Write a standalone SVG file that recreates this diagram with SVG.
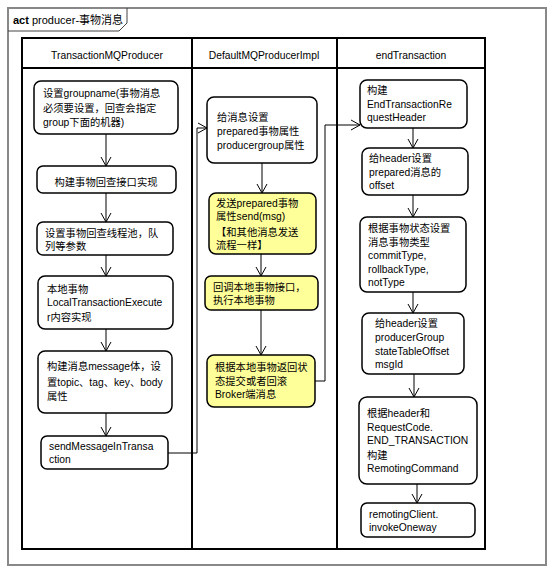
<svg xmlns="http://www.w3.org/2000/svg" width="554" height="574" viewBox="0 0 554 574">
<style>
text{font-family:"Liberation Sans","Noto Sans CJK SC",sans-serif;font-size:10.3px;fill:#000}
.hdr{text-anchor:middle}
.n{fill:#fff;stroke:#000;stroke-width:1.5}
.y{fill:#ffff99;stroke:#000;stroke-width:1.5}
.lane{fill:none;stroke:#000;stroke-width:2}
.c{fill:none;stroke:#000;stroke-width:1;marker-end:url(#ah)}
</style>
<defs>
<marker id="ah" markerUnits="userSpaceOnUse" markerWidth="14" markerHeight="14" refX="10" refY="6" orient="auto">
<path d="M1,1 L10,6 L1,11" fill="none" stroke="#000" stroke-width="1"/>
</marker>
</defs>
<rect x="0" y="0" width="554" height="574" fill="#fff"/>
<g id="frame">
<rect x="8" y="8" width="538" height="557" fill="none" stroke="#888" stroke-width="2"/>
<path d="M8,31 L119,31 L127,23 L127,8" fill="none" stroke="#444" stroke-width="1"/>
<text x="13" y="24" style="font-size:11px"><tspan font-weight="bold">act</tspan> producer-事物消息</text>
</g>
<g id="lanes">
<rect class="lane" x="22" y="38" width="463" height="511"/>
<line class="lane" x1="22" y1="68" x2="485" y2="68"/>
<line class="lane" x1="192" y1="38" x2="192" y2="549"/>
<line class="lane" x1="337" y1="38" x2="337" y2="549"/>
<text class="hdr" x="107" y="59">TransactionMQProducer</text>
<text class="hdr" x="264" y="59">DefaultMQProducerImpl</text>
<text class="hdr" x="411" y="59">endTransaction</text>
</g>
<g id="connectors">
<line class="c" x1="106" y1="134" x2="106" y2="166"/>
<line class="c" x1="106" y1="193" x2="106" y2="222"/>
<line class="c" x1="106" y1="255" x2="106" y2="276"/>
<line class="c" x1="106" y1="329" x2="106" y2="351"/>
<line class="c" x1="106" y1="413" x2="106" y2="436"/>
<polyline class="c" points="168,453 197,453 197,128 207,128"/>
<line class="c" x1="262" y1="163" x2="262" y2="193"/>
<line class="c" x1="261" y1="254" x2="261" y2="276"/>
<line class="c" x1="261" y1="310" x2="261" y2="355"/>
<polyline class="c" points="315,381 325,381 325,125 360,125"/>
<line class="c" x1="413" y1="128" x2="413" y2="148"/>
<line class="c" x1="413" y1="195" x2="413" y2="217"/>
<line class="c" x1="413" y1="292" x2="413" y2="313"/>
<line class="c" x1="414" y1="374" x2="414" y2="397"/>
<line class="c" x1="417" y1="484" x2="417" y2="503"/>
</g>
<g id="n1"><rect class="n" x="34" y="81" width="144" height="53" rx="7"/>
<text x="43" y="97">设置groupname(事物消息</text><text x="43" y="112">必须要设置，回查会指定</text><text x="43" y="126">group下面的机器)</text></g>
<g id="n2"><rect class="n" x="37" y="166" width="139" height="27" rx="6"/>
<text x="106" y="186" text-anchor="middle">构建事物回查接口实现</text></g>
<g id="n3"><rect class="n" x="37" y="222" width="136" height="33" rx="6"/>
<text x="45" y="237">设置事物回查线程池，队</text><text x="45" y="250">列等参数</text></g>
<g id="n4"><rect class="n" x="38" y="276" width="135" height="53" rx="7"/>
<text x="47" y="293">本地事物</text><text x="47" y="306">LocalTransactionExecute</text><text x="47" y="321">r内容实现</text></g>
<g id="n5"><rect class="n" x="38" y="351" width="134" height="62" rx="7"/>
<text x="47" y="370">构建消息message体，设</text><text x="47" y="386">置topic、tag、key、body</text><text x="47" y="400">属性</text></g>
<g id="n6"><rect class="n" x="41" y="436" width="127" height="33" rx="6"/>
<text x="49" y="450">sendMessageInTransa</text><text x="49" y="463">ction</text></g>
<g id="n7"><rect class="n" x="207" y="97" width="110" height="66" rx="7"/>
<text x="217" y="121">给消息设置</text><text x="217" y="135">prepared事物属性</text><text x="217" y="149">producergroup属性</text></g>
<g id="n8"><rect class="y" x="209" y="193" width="107" height="61" rx="7"/>
<text x="216" y="207">发送prepared事物</text><text x="216" y="220">属性send(msg)</text><text x="216" y="236">【和其他消息发送</text><text x="216" y="249">流程一样】</text></g>
<g id="n9"><rect class="y" x="205" y="276" width="113" height="34" rx="6"/>
<text x="213" y="291">回调本地事物接口，</text><text x="213" y="304">执行本地事物</text></g>
<g id="n10"><rect class="y" x="207" y="355" width="108" height="52" rx="7"/>
<text x="215" y="371">根据本地事物返回状</text><text x="215" y="385">态提交或者回滚</text><text x="215" y="398">Broker端消息</text></g>
<g id="n11"><rect class="n" x="360" y="80" width="107" height="48" rx="7"/>
<text x="367" y="94">构建</text><text x="367" y="108">EndTransactionRe</text><text x="367" y="121">questHeader</text></g>
<g id="n12"><rect class="n" x="362" y="148" width="106" height="47" rx="7"/>
<text x="369" y="162">给header设置</text><text x="369" y="176">prepared消息的</text><text x="369" y="189">offset</text></g>
<g id="n13"><rect class="n" x="360" y="217" width="106" height="75" rx="7"/>
<text x="368" y="232">根据事物状态设置</text><text x="368" y="246">消息事物类型</text><text x="368" y="259">commitType,</text><text x="368" y="273">rollbackType,</text><text x="368" y="286">notType</text></g>
<g id="n14"><rect class="n" x="362" y="313" width="102" height="61" rx="7"/>
<text x="375" y="327">给header设置</text><text x="375" y="341">producerGroup</text><text x="375" y="355">stateTableOffset</text><text x="375" y="368">msgId</text></g>
<g id="n15"><rect class="n" x="359" y="397" width="118" height="87" rx="8"/>
<text x="367" y="417">根据header和</text><text x="367" y="431">RequestCode.</text><text x="367" y="444">END_TRANSACTION</text><text x="367" y="459">构建</text><text x="367" y="472">RemotingCommand</text></g>
<g id="n16"><rect class="n" x="361" y="503" width="114" height="34" rx="6"/>
<text x="369" y="518">remotingClient.</text><text x="369" y="531">invokeOneway</text></g>
</svg>
